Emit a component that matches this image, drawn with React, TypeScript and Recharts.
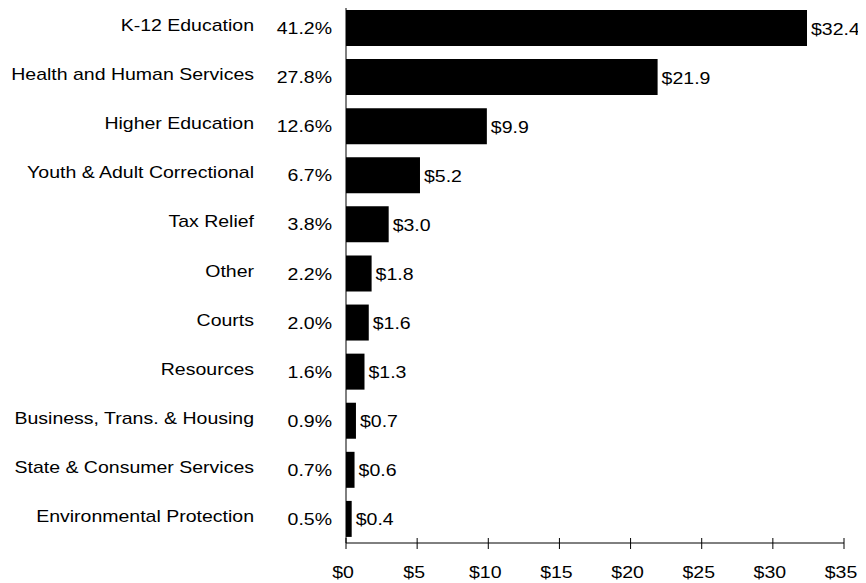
import React from 'react';
import { BarChart, Bar, XAxis, YAxis, LabelList } from 'recharts';

// General Fund spending by program area (billions)
const categories = [
  'K-12 Education',
  'Health and Human Services',
  'Higher Education',
  'Youth & Adult Correctional',
  'Tax Relief',
  'Other',
  'Courts',
  'Resources',
  'Business, Trans. & Housing',
  'State & Consumer Services',
  'Environmental Protection',
];
const amounts = [32.4, 21.9, 9.9, 5.2, 3.0, 1.8, 1.6, 1.3, 0.7, 0.6, 0.4];
const shares = [41.2, 27.8, 12.6, 6.7, 3.8, 2.2, 2.0, 1.6, 0.9, 0.7, 0.5];
const xTicks = [0, 5, 10, 15, 20, 25, 30, 35];

const data = categories.map((name, i) => ({ name, amount: amounts[i], share: shares[i] }));

const FONT = '"Liberation Sans", Arial, Helvetica, sans-serif';
const STRETCH = 1.22;

const CategoryTick = ({ x, y, payload }: any) => {
  const row = data.find(d => d.name === payload.value);
  return (
    <g>
      <text
        transform={`translate(${x - 92},${y + 3.5}) scale(${STRETCH},1)`}
        textAnchor="end"
        fontFamily={FONT}
        fontSize={16}
        fill="#000"
      >
        {payload.value}
      </text>
      <text
        transform={`translate(${x - 14},${y + 6.5}) scale(${STRETCH},1)`}
        textAnchor="end"
        fontFamily={FONT}
        fontSize={16}
        fill="#000"
      >
        {row ? `${row.share.toFixed(1)}%` : ''}
      </text>
    </g>
  );
};

const DollarTick = ({ x, y, payload }: any) => (
  <g>
    <line x1={x} x2={x} y1={y - 5} y2={y + 6} stroke="#000" strokeWidth={1} />
    <text
      transform={`translate(${x - 3},${y + 35}) scale(${STRETCH},1)`}
      textAnchor="middle"
      fontFamily={FONT}
      fontSize={16}
      fill="#000"
    >
      {`$${payload.value}`}
    </text>
  </g>
);

const ValueLabel = ({ x, y, width, height, value }: any) => (
  <text
    transform={`translate(${x + width + 4},${y + height / 2 + 6.5}) scale(${STRETCH},1)`}
    textAnchor="start"
    fontFamily={FONT}
    fontSize={16}
    fill="#000"
  >
    {`$${Number(value).toFixed(1)}`}
  </text>
);

export default function App() {
  return (
    <div style={{ margin: '-8px 0 0 -8px', width: 866, height: 583 }}>
      <BarChart
        width={866}
        height={583}
        data={data}
        layout="vertical"
        margin={{ top: 3, right: 22, bottom: 0, left: 0 }}
      >
        <XAxis
          type="number"
          domain={[0, 35]}
          ticks={xTicks}
          height={40}
          axisLine={{ stroke: '#000' }}
          tickLine={false}
          tickSize={0}
          tickMargin={0}
          tick={<DollarTick />}
          interval={0}
        />
        <YAxis
          type="category"
          dataKey="name"
          width={346}
          axisLine={{ stroke: '#000' }}
          tickLine={false}
          tickSize={0}
          tickMargin={0}
          tick={<CategoryTick />}
          interval={0}
        />
        <Bar dataKey="amount" fill="#000" barSize={36} isAnimationActive={false}>
          <LabelList dataKey="amount" content={<ValueLabel />} />
        </Bar>
      </BarChart>
    </div>
  );
}
